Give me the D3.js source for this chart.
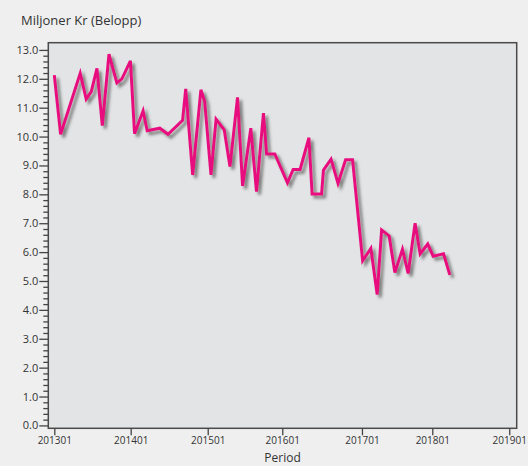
<!DOCTYPE html>
<html>
<head>
<meta charset="utf-8">
<script src="https://cdn.jsdelivr.net/npm/d3@7"></script>
<style>
  html, body { margin: 0; padding: 0; background: #efefef; }
  svg { display: block; }
  text { font-family: "Open Sans", "Noto Sans", sans-serif; fill: #333; }
</style>
</head>
<body>
<svg id="chart" width="528" height="466"></svg>
<script>
const periodPos = [0.0, 1.0, 4.1, 5.05, 5.85, 6.75, 7.6, 8.65, 9.9, 10.7,
  12.05, 12.7, 14.05, 14.7, 16.7, 18.0, 20.3, 20.8, 21.9, 23.2,
  23.8, 24.8, 25.6, 26.9, 27.8, 29.0, 29.8, 31.1, 32.0, 33.1,
  33.6, 34.9, 36.9, 37.8, 38.9, 40.3, 40.8, 42.3, 42.6, 43.8,
  44.9, 46.1, 47.2, 48.8, 50.1, 51.1, 51.8, 53.0, 53.9, 55.1,
  56.0, 57.1, 57.9, 59.1, 59.96, 61.6, 62.6];
// Belopp, miljoner kr
const belopp = [12.13, 10.08, 12.19, 11.3, 11.56, 12.36, 10.38, 12.85, 11.86, 12.0,
  12.62, 10.1, 10.89, 10.2, 10.29, 10.08, 10.56, 11.65, 8.67, 11.62,
  11.21, 8.67, 10.6, 10.23, 8.96, 11.36, 8.29, 10.29, 8.09, 10.81,
  9.4, 9.4, 8.4, 8.86, 8.86, 9.96, 8.01, 8.01, 8.84, 9.22,
  8.38, 9.2, 9.2, 5.7, 6.13, 4.53, 6.77, 6.56, 5.29, 6.1,
  5.26, 7.0, 5.94, 6.28, 5.86, 5.94, 5.21];
// Period axis ticks
const periodTickLabels = ["201301", "201401", "201501", "201601", "201701", "201801", "201901"];
const periodTickPos = [0, 12.09, 24.28, 36.08, 48.69, 59.82, 72];
// Value axis ticks
const yMajorTicks = d3.range(0, 13.01, 1);
const yMinorTicks = d3.range(0, 13.01, 0.2).filter(v => Math.abs(v - Math.round(v)) > 0.01);

const yTitle = "Miljoner Kr (Belopp)";
const xTitle = "Period";

const svg = d3.select("#chart");
const plot = { left: 48.3, right: 516.7, top: 42.7, bottom: 428.3 };

const x = d3.scaleLinear().domain([-0.95, 73.18]).range([plot.left, plot.right]);
const y = d3.scaleLinear().domain([-0.1, 13.25]).range([plot.bottom, plot.top]);

// Shadow filter
const defs = svg.append("defs");
const f = defs.append("filter").attr("id", "shadow")
  .attr("x", "-10%").attr("y", "-10%").attr("width", "120%").attr("height", "120%");
f.append("feDropShadow").attr("dx", 3).attr("dy", 3).attr("stdDeviation", 1.8)
  .attr("flood-color", "#444").attr("flood-opacity", 0.65);

// Plot background
svg.append("rect")
  .attr("x", plot.left).attr("y", plot.top)
  .attr("width", plot.right - plot.left).attr("height", plot.bottom - plot.top)
  .attr("fill", "#e3e4e5");

// Line
const data = periodPos.map((p, i) => ({ p, v: belopp[i] }));
const line = d3.line().x(d => x(d.p)).y(d => y(d.v));
svg.append("path")
  .datum(data)
  .attr("d", line)
  .attr("fill", "none")
  .attr("stroke", "#e8107f")
  .attr("stroke-width", 3)
  .attr("stroke-linejoin", "miter")
  .attr("stroke-miterlimit", 4)
  .attr("filter", "url(#shadow)");

// Frame
svg.append("rect")
  .attr("x", plot.left).attr("y", plot.top)
  .attr("width", plot.right - plot.left).attr("height", plot.bottom - plot.top)
  .attr("fill", "none").attr("stroke", "#4a4a4a").attr("stroke-width", 1.5);

// Y axis
const yAxis = svg.append("g").attr("transform", `translate(${plot.left},0)`)
  .call(d3.axisLeft(y).tickValues(yMajorTicks).tickSize(9).tickPadding(1).tickFormat(d3.format(".1f")));
yAxis.select(".domain").remove();
yAxis.selectAll("line").attr("stroke", "#444").attr("stroke-width", 1.3);
yAxis.selectAll("text").attr("font-size", 11).attr("fill", "#333")
  .style("font-family", '"Open Sans", sans-serif');

const yMinor = svg.append("g").attr("transform", `translate(${plot.left},0)`)
  .call(d3.axisLeft(y).tickValues(yMinorTicks).tickSize(5).tickFormat(""));
yMinor.select(".domain").remove();
yMinor.selectAll("line").attr("stroke", "#444").attr("stroke-width", 1.3);

// X axis
const xAxis = svg.append("g").attr("transform", `translate(0,${plot.bottom})`)
  .call(d3.axisBottom(x).tickValues(periodTickPos).tickSize(7).tickPadding(2)
    .tickFormat((d, i) => periodTickLabels[i]));
xAxis.select(".domain").remove();
xAxis.selectAll("line").attr("stroke", "#444").attr("stroke-width", 1.3);
xAxis.selectAll("text").attr("font-size", 10).attr("fill", "#333")
  .style("font-family", '"Open Sans", sans-serif');

// Titles
svg.append("text").attr("x", 21).attr("y", 25)
  .attr("font-size", 13).text(yTitle);
svg.append("text").attr("x", (plot.left + plot.right) / 2).attr("y", 462)
  .attr("text-anchor", "middle").attr("font-size", 12).text(xTitle);
</script>
</body>
</html>
